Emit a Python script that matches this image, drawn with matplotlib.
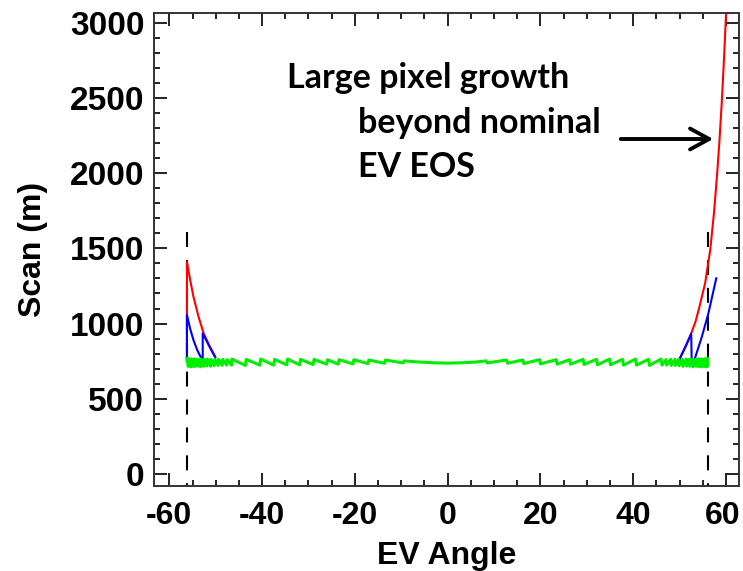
import numpy as np
import matplotlib
matplotlib.use("Agg")
from matplotlib import pyplot as plt
from matplotlib.transforms import ScaledTranslation

# values
red_left_x = [-56.2, -56.2, -55.5, -54.8, -53.7, -52.6, -51.3, -50.1]
red_left_y = [750, 1412, 1290, 1179, 1046, 935, 850, 780]
red_right_x = [50.0, 51.2, 52.5, 53.4, 54.1, 55.5, 56.6, 57.4, 58.1, 58.6, 59.1, 59.6, 60.1]
red_right_y = [765, 840, 935, 1010, 1090, 1268, 1489, 1733, 1999, 2221, 2480, 2780, 3120]

blue_left_x = [-56.2, -56.2, -55.5, -54.8, -54.0, -53.1, -52.8, -52.8, -51.4, -50.1]
blue_left_y = [750, 1057, 965, 891, 825, 769, 769, 935, 850, 775]
blue_right_x = [50.0, 51.3, 52.5, 52.6, 53.3, 54.8, 56.2, 57.9]
blue_right_y = [765, 850, 931, 750, 769, 913, 1068, 1301]

green_x = [-56.2, -55.9, -55.8, -55.3, -55.2, -54.7, -54.6, -54.0, -53.9, -53.3, -53.2,
           -52.6, -52.5, -51.9, -51.8, -51.1, -51.0, -50.3, -50.2, -49.5, -49.4, -48.6,
           -48.5, -47.6, -47.5, -46.6,
           -46.5, -43.6, -43.4, -40.5, -40.3, -37.5, -37.3, -34.7, -34.5, -31.9, -31.7,
           -29.0, -28.8, -26.1, -25.9, -23.6, -23.4, -20.4, -20.2, -17.2, -17.0, -13.6,
           -13.4, -9.6, -9.4,
           -6.0, -3.0, 0.0, 3.0, 6.0, 8.3,
           8.5, 12.7, 12.9, 16.2, 16.4, 19.8, 20.0, 23.4, 23.6, 26.3, 26.5, 29.2, 29.4,
           32.1, 32.3, 34.9, 35.1, 37.7, 37.9, 40.5, 40.7, 43.3, 43.5, 46.0, 46.2,
           47.1, 47.2, 48.1, 48.2, 49.0, 49.1, 49.8, 49.9, 50.6, 50.7, 51.4, 51.5, 52.1,
           52.2, 52.8, 52.9, 53.5, 53.6, 54.1, 54.2, 54.7, 54.8, 55.3, 55.4, 55.8, 55.9, 56.0]
green_y = [768, 715, 766, 712, 765, 714, 766, 716, 764, 713, 765,
           716, 763, 718, 764, 716, 762, 720, 763, 722, 762, 722,
           762, 724, 760, 724,
           764, 722, 762, 724, 764, 724, 762, 726, 764, 726, 762,
           728, 762, 730, 760, 730, 760, 732, 760, 734, 758, 736,
           758, 738, 752,
           744, 739, 737, 739, 744, 752,
           738, 758, 736, 758, 734, 760, 732, 760, 730, 760, 730, 762, 728,
           762, 726, 764, 726, 762, 724, 764, 724, 762, 722, 764, 724,
           760, 724, 762, 722, 762, 722, 763, 720, 762, 716, 764, 718, 763,
           716, 765, 713, 764, 716, 766, 714, 765, 712, 766, 715, 768, 712, 766]

eos_angle = 56.2
xticks = [-60, -40, -20, 0, 20, 40, 60]
yticks = [0, 500, 1000, 1500, 2000, 2500, 3000]

plt.rcParams['font.family'] = 'Liberation Sans'
plt.rcParams['font.weight'] = 'bold'
plt.rcParams['axes.unicode_minus'] = False

fig = plt.figure(figsize=(7.43, 5.71), dpi=100)
ax = fig.add_axes([154/743, 85/571, 585/743, 473.3/571])

# nominal EV end-of-scan marks
for a in [-eos_angle, eos_angle]:
    ax.plot([a, a], [1610, -80], color='black', lw=1.5, dashes=(7.2, 6.2), zorder=1)

ax.plot(red_left_x, red_left_y, color='#ff0000', lw=1.5, zorder=2)
ax.plot(red_right_x, red_right_y, color='#ff0000', lw=1.5, zorder=2)
ax.plot(blue_left_x, blue_left_y, color='#0000ff', lw=1.5, zorder=3)
ax.plot(blue_right_x, blue_right_y, color='#0000ff', lw=1.5, zorder=3)
ax.plot(green_x, green_y, color='#00ee00', lw=2.2, zorder=4)

ax.set_xlim(-63.3, 62.8)
ax.set_ylim(-80, 3067)
ax.set_xticks(xticks)
ax.set_yticks(yticks)
ax.set_xticks(np.arange(-60, 61, 5), minor=True)
ax.set_yticks(np.arange(0, 3001, 100), minor=True)
ax.tick_params(which='both', direction='in', top=True, right=True, width=1.4,
               colors='#222222', labelcolor='black')
ax.tick_params(axis='x', pad=11, labelsize=23)
ax.tick_params(axis='y', pad=7, labelsize=24)
ax.tick_params(which='major', length=9.4)
ax.tick_params(which='minor', length=4.3)
for s in ax.spines.values():
    s.set_linewidth(1.4)
    s.set_color('#333333')

# keep the "60" label inside the canvas
last = ax.get_xticklabels()[-1]
last.set_transform(last.get_transform() + ScaledTranslation(-0.03, 0, fig.dpi_scale_trans))

ax.set_xlabel('EV Angle', fontsize=23, fontweight='bold')
ax.set_ylabel('Scan (m)', fontsize=23, fontweight='bold')
ax.xaxis.set_label_coords(0.5, -0.117)
ax.yaxis.set_label_coords(-0.181, 0.5)

fig.text(287/743, 1 - 88/571, 'Large pixel growth', family='Lato', fontweight='bold', fontsize=24.5)
fig.text(358/743, 1 - 133/571, 'beyond nominal', family='Lato', fontweight='bold', fontsize=24.5)
fig.text(358/743, 1 - 177/571, 'EV EOS', family='Lato', fontweight='bold', fontsize=24.5)
ax.annotate('', xy=(716/743, 1 - 139/571), xytext=(618/743, 1 - 139/571),
            xycoords='figure fraction', textcoords='figure fraction',
            arrowprops=dict(arrowstyle='->,head_length=0.55,head_width=0.3',
                            lw=2.8, color='black', mutation_scale=25))

fig.savefig('out.png', dpi=100)
